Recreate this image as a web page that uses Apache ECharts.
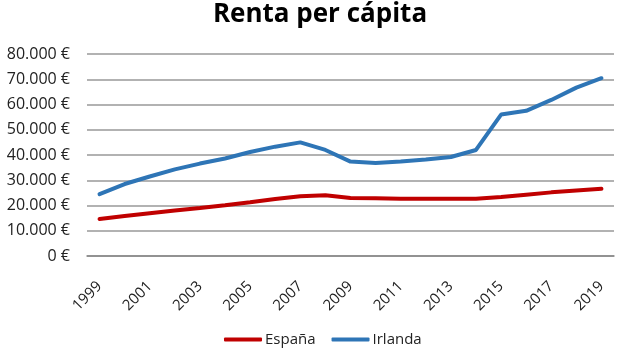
<!DOCTYPE html>
<html>
<head>
<meta charset="utf-8">
<script src="https://cdn.jsdelivr.net/npm/echarts@6/dist/echarts.min.js"></script>
<style>
  html, body { margin: 0; padding: 0; background: #fff; }
  #chart { width: 623px; height: 352px; }
</style>
</head>
<body>
<div id="chart"></div>
<script>
const years = ["1999", "2000", "2001", "2002", "2003", "2004", "2005", "2006", "2007", "2008",
  "2009", "2010", "2011", "2012", "2013", "2014", "2015", "2016", "2017", "2018", "2019"];
const espana = [14650, 15800, 16900, 18000, 19000, 20100, 21300, 22600, 23700, 24100,
  23000, 22900, 22700, 22700, 22700, 22700, 23400, 24300, 25200, 25900, 26600];
const irlanda = [24500, 28500, 31500, 34300, 36600, 38600, 41200, 43300, 45000, 42000,
  37400, 36800, 37400, 38200, 39200, 42000, 56000, 57500, 61800, 66700, 70400];

const chart = echarts.init(document.getElementById("chart"));

const fmt = v => (v === 0 ? "0" : v.toLocaleString("de-DE")) + " €";

chart.setOption({
  animation: false,
  title: {
    text: "Renta per cápita",
    left: 315,
    textAlign: "center",
    top: -3,
    textStyle: {fontFamily: "Open Sans", fontSize: 26, fontWeight: "bold", color: "#000"},
  },
  legend: {
    top: 327,
    left: 219,
    itemWidth: 38,
    itemHeight: 4,
    itemGap: 16,
    icon: "roundRect",
    textStyle: {fontFamily: "Open Sans", fontSize: 15, color: "#222", padding: [0, 0, 0, -2]},
    data: ["España", "Irlanda"],
  },
  grid: {left: 87, right: 9, top: 54, bottom: 96},
  xAxis: {
    type: "category",
    data: years,
    boundaryGap: true,
    axisLine: {lineStyle: {color: "#888", width: 1.5}},
    axisTick: {show: false},
    axisLabel: {
      interval: 1,
      rotate: 45,
      margin: 28,
      fontFamily: "Open Sans",
      fontSize: 15,
      color: "#222",
    },
  },
  yAxis: {
    type: "value",
    min: 0,
    max: 80000,
    interval: 10000,
    axisLine: {show: false},
    axisTick: {show: false},
    splitLine: {lineStyle: {color: "#999", width: 1.5}},
    axisLabel: {
      formatter: fmt,
      margin: 17,
      fontFamily: "Open Sans",
      fontSize: 16,
      color: "#222",
    },
  },
  series: [
    {
      name: "España",
      type: "line",
      data: espana,
      symbol: "none",
      lineStyle: {color: "#C00000", width: 4, cap: "round"},
      itemStyle: {color: "#C00000"},
    },
    {
      name: "Irlanda",
      type: "line",
      data: irlanda,
      symbol: "none",
      lineStyle: {color: "#2E75B6", width: 4, cap: "round"},
      itemStyle: {color: "#2E75B6"},
    },
  ],
});
</script>
</body>
</html>
